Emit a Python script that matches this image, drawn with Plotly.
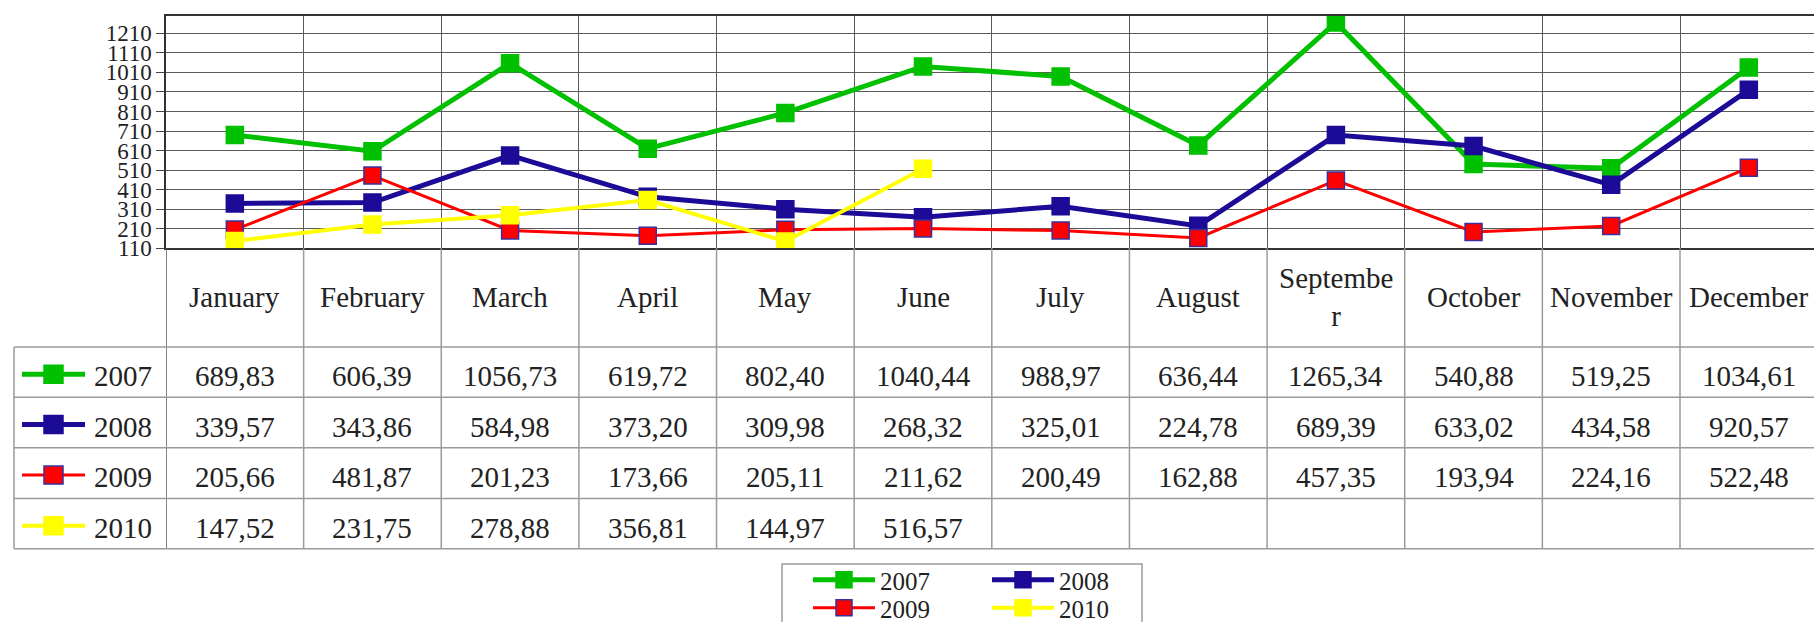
import plotly.graph_objects as go

# ---------------- data ----------------
months = ["January", "February", "March", "April", "May", "June", "July",
          "August", "September", "October", "November", "December"]
month_labels = ["January", "February", "March", "April", "May", "June", "July",
                "August", "Septembe<br>r", "October", "November", "December"]
years = ["2007", "2008", "2009", "2010"]
v2007 = [689.83, 606.39, 1056.73, 619.72, 802.40, 1040.44, 988.97, 636.44,
         1265.34, 540.88, 519.25, 1034.61]
v2008 = [339.57, 343.86, 584.98, 373.20, 309.98, 268.32, 325.01, 224.78,
         689.39, 633.02, 434.58, 920.57]
v2009 = [205.66, 481.87, 201.23, 173.66, 205.11, 211.62, 200.49, 162.88,
         457.35, 193.94, 224.16, 522.48]
v2010 = [147.52, 231.75, 278.88, 356.81, 144.97, 516.57]
y_ticks = [110, 210, 310, 410, 510, 610, 710, 810, 910, 1010, 1110, 1210]

series = [v2007, v2008, v2009, v2010]

# ---------------- styles ----------------
W, H = 1814, 622
colors = ["#00c000", "#1c0b96", "#ff0000", "#ffff00"]
line_w = [5, 5, 3, 4]
mk_line = ["#00c000", "#1c0b96", "#3a2f9c", "#ffff00"]
FONT = "Liberation Serif"
TXT = "#222222"
TSIZE = 29

plot_left, plot_top, plot_bottom = 166, 15.7, 248.3
col_w = (1680 - 166) / 11.0
table_rows = [347, 397.3, 447.7, 498.5, 548.8]
header_mid = 297
table_left = 14
grid_col = "#5a5a5a"
tab_col = "#9a9a9a"


def px(x):
    return x / W


def py(y):
    return 1 - y / H


fig = go.Figure()
legend_names = ["legend", "legend", "legend2", "legend2"]
for i, (yr, vals) in enumerate(zip(years, series)):
    fig.add_trace(go.Scatter(
        x=list(range(len(vals))), y=vals, name=yr, mode="lines+markers",
        line=dict(color=colors[i], width=line_w[i]),
        marker=dict(symbol="square", size=17, color=colors[i],
                    line=dict(color=mk_line[i], width=1.5)),
        legend=legend_names[i],
    ))

shapes = []
annotations = []

# table vertical lines (column boundaries)
for k in range(13):
    shapes.append(dict(type="line", xref="x", yref="paper",
                       x0=-0.5 + k, x1=-0.5 + k,
                       y0=py(plot_bottom), y1=py(table_rows[-1]),
                       line=dict(color=tab_col if k else grid_col, width=1.5)))
# table horizontal lines
for yy in table_rows:
    shapes.append(dict(type="line", xref="paper", yref="paper",
                       x0=px(table_left), x1=1, y0=py(yy), y1=py(yy),
                       line=dict(color=tab_col, width=1.5)))
shapes.append(dict(type="line", xref="paper", yref="paper",
                   x0=px(table_left), x1=px(table_left),
                   y0=py(table_rows[0]), y1=py(table_rows[-1]),
                   line=dict(color=tab_col, width=1.5)))

txt_font = dict(family=FONT, size=TSIZE, color=TXT)

# header labels
for i, lab in enumerate(month_labels):
    annotations.append(dict(xref="x", yref="paper", x=i, y=py(header_mid),
                            xanchor="center", yanchor="middle",
                            text=lab, showarrow=False, font=txt_font))

# data rows
for r, (yr, vals) in enumerate(zip(years, series)):
    yc = (table_rows[r] + table_rows[r + 1]) / 2
    annotations.append(dict(xref="paper", yref="paper", x=px(123), y=py(yc),
                            xanchor="center", yanchor="middle", yshift=-4,
                            text=yr, showarrow=False, font=txt_font))
    for i, v in enumerate(vals):
        annotations.append(dict(xref="x", yref="paper", x=i, y=py(yc),
                                xanchor="center", yanchor="middle", yshift=-4,
                                text=f"{v:.2f}".replace(".", ","),
                                showarrow=False, font=txt_font))
    # legend key in row header
    kc = yc + 2
    shapes.append(dict(type="line", xref="paper", yref="paper",
                       x0=px(22), x1=px(85), y0=py(kc), y1=py(kc),
                       line=dict(color=colors[r], width=line_w[r])))
    shapes.append(dict(type="rect", xref="paper", yref="paper",
                       x0=px(44), x1=px(63), y0=py(kc - 9), y1=py(kc + 9),
                       fillcolor=colors[r],
                       line=dict(color=mk_line[r], width=1.5)))

# bottom legend box
shapes.append(dict(type="rect", xref="paper", yref="paper",
                   x0=px(782), x1=px(1142), y0=py(640), y1=py(564),
                   fillcolor="white", line=dict(color="#9a9a9a", width=1.5),
                   layer="below"))

leg_common = dict(orientation="h", xanchor="left", yanchor="middle",
                  bgcolor="rgba(0,0,0,0)", borderwidth=0,
                  font=dict(family=FONT, size=25, color=TXT),
                  itemwidth=62, entrywidth=102, entrywidthmode="pixels",
                  traceorder="normal")

fig.update_layout(
    width=W, height=H, autosize=False,
    margin=dict(l=0, r=0, t=0, b=0, autoexpand=False),
    paper_bgcolor="white", plot_bgcolor="white",
    showlegend=True,
    legend=dict(x=px(808), y=py(580), **leg_common),
    legend2=dict(x=px(808), y=py(608), **leg_common),
    xaxis=dict(domain=[px(plot_left), 1],
               range=[-0.5, -0.5 + (W - plot_left) / col_w],
               tickvals=[k + 0.5 for k in range(11)],
               showticklabels=False, ticks="",
               showgrid=True, gridcolor=grid_col, gridwidth=1,
               showline=True, mirror=True, linecolor="#333333", linewidth=1.5,
               zeroline=False, automargin=False),
    yaxis=dict(domain=[py(plot_bottom), py(plot_top)],
               range=[110, 1300], tickvals=y_ticks,
               ticks="outside", ticklen=8, tickcolor="#444444",
               tickfont=dict(family=FONT, size=23, color=TXT),
               showgrid=True, gridcolor=grid_col, gridwidth=1,
               showline=True, linecolor="#333333", linewidth=1.5,
               zeroline=False, automargin=False),
    shapes=shapes,
    annotations=annotations,
)

fig.write_html("out.html", config={"displayModeBar": False},
               post_script="document.body.style.margin='0';"
                           "document.body.style.overflow='hidden';")
